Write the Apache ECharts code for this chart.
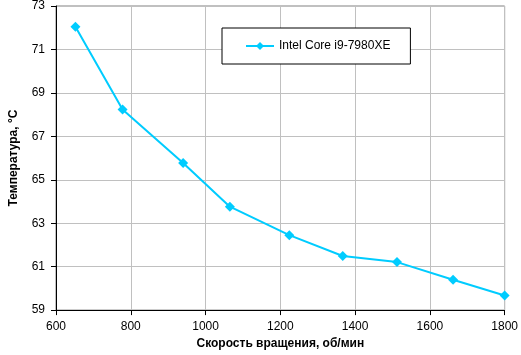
<!DOCTYPE html>
<html><head><meta charset="utf-8">
<script src="https://cdn.jsdelivr.net/npm/echarts@6/dist/echarts.min.js"></script>
<style>html,body{margin:0;padding:0;background:#fff}#c{width:521px;height:355px}</style>
</head><body><div id="c"></div>
<script>
const seriesName = 'Intel Core i9-7980XE';
const rpm = [652, 778, 940, 1065, 1224, 1367, 1512, 1662, 1800];
const temp = [72.05, 68.23, 65.77, 63.76, 62.45, 61.49, 61.21, 60.4, 59.67];
const xTitle = 'Скорость вращения, об/мин';
const yTitle = 'Температура, °C';

const font = 'Liberation Sans, Arial, sans-serif';
const chart = echarts.init(document.getElementById('c'));
chart.setOption({
  animation: false,
  backgroundColor: '#fff',
  grid: { left: 47, right: 13, top: 5, bottom: 42, show: true, borderColor: '#808080', borderWidth: 1 },
  legend: {
    left: 222, top: 28, orient: 'horizontal',
    padding: [12, 20, 12, 23],
    borderColor: '#000', borderWidth: 1, backgroundColor: '#fff',
    itemWidth: 28, itemHeight: 10,
    textStyle: { fontFamily: font, fontSize: 12, color: '#000' },
    data: [seriesName]
  },
  xAxis: {
    type: 'value', min: 600, max: 1800, interval: 200,
    name: xTitle, nameLocation: 'middle', nameGap: 27,
    nameTextStyle: { fontFamily: font, fontSize: 12, fontWeight: 'bold', color: '#000' },
    axisLine: { lineStyle: { color: '#000', width: 1 } },
    axisTick: { show: true, length: 5, lineStyle: { color: '#000' } },
    axisLabel: { fontFamily: font, fontSize: 12, color: '#000', margin: 11, formatter: v => String(v) },
    splitLine: { show: true, lineStyle: { color: '#c0c0c0', width: 1 } }
  },
  yAxis: {
    type: 'value', min: 59, max: 73, interval: 2,
    name: yTitle, nameLocation: 'middle', nameGap: 36,
    nameTextStyle: { fontFamily: font, fontSize: 12, fontWeight: 'bold', color: '#000' },
    axisLine: { show: true, lineStyle: { color: '#000', width: 1 } },
    axisTick: { show: true, length: 5, lineStyle: { color: '#000' } },
    axisLabel: { fontFamily: font, fontSize: 12, color: '#000', margin: 11 },
    splitLine: { show: true, lineStyle: { color: '#c0c0c0', width: 1 } }
  },
  series: [{
    name: seriesName, type: 'line',
    data: rpm.map((x, i) => [x, temp[i]]),
    symbol: 'diamond', symbolSize: 10,
    lineStyle: { color: '#00ccff', width: 2 },
    itemStyle: { color: '#00ccff' }
  }]
});
</script></body></html>
